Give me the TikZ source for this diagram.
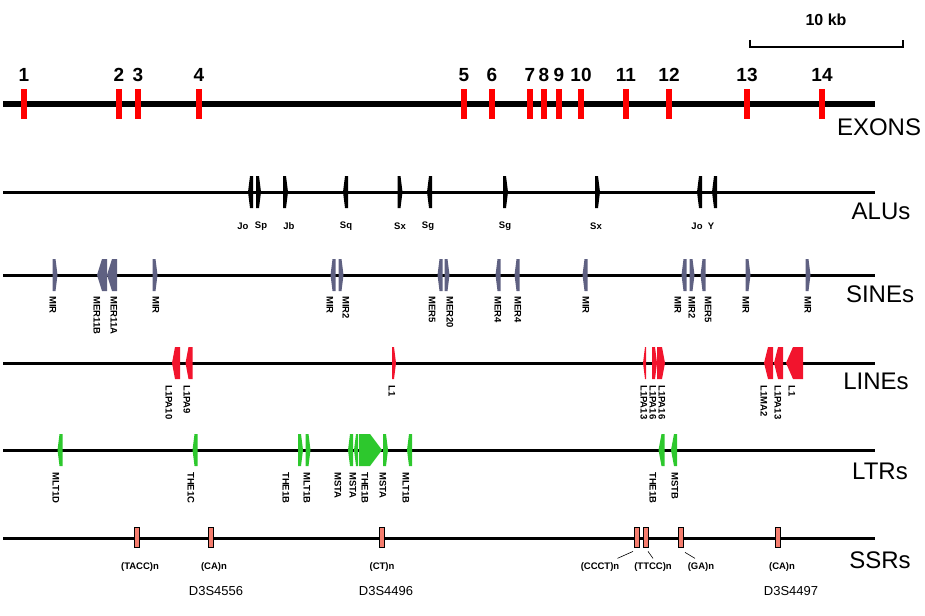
\documentclass[tikz,border=0pt]{standalone}
\usepackage{fontspec}
\setmainfont{Liberation Sans}
\usetikzlibrary{positioning,calc}

\definecolor{sinefill}{RGB}{95,97,130}
\definecolor{linefill}{RGB}{242,20,45}
\definecolor{ltrfill}{RGB}{45,200,45}
\definecolor{ssrfill}{RGB}{245,125,110}

\begin{document}
\begin{tikzpicture}[x=1pt,y=-1pt]
	\tikzstyle{track}=[line width=3pt];
	\tikzstyle{exon}=[rectangle, fill=red, minimum width=6, minimum height=30, inner sep=0];
	\tikzstyle{num}=[font=\bfseries\fontsize{19}{19}\selectfont, inner sep=0];
	\tikzstyle{rowname}=[font=\fontsize{24}{24}\selectfont, inner sep=0];
	\tikzstyle{tag}=[font=\bfseries\fontsize{9.5}{9.5}\selectfont, inner sep=0];
	\tikzstyle{vtag}=[tag, rotate=-90, anchor=west];
	\tikzstyle{marker}=[font=\fontsize{13}{13}\selectfont, inner sep=0];
	\tikzstyle{alu}=[fill=black];
	\tikzstyle{sine}=[fill=sinefill];
	\tikzstyle{lin}=[fill=linefill];
	\tikzstyle{ltr}=[fill=ltrfill];
	\tikzstyle{minus}=[xscale=-1];
	\tikzstyle{ssr}=[draw, line width=0.8pt, fill=ssrfill, minimum width=5, minimum height=20, inner sep=0];
	\tikzstyle{leader}=[line width=0.6pt];
	\tikzset{pics/rep/.style 2 args={code={\fill (-#1/2,-16) -- (#1/2-#2,-16) -- (#1/2,0) -- (#1/2-#2,16) -- (-#1/2,16) -- cycle;}}};
	
	\useasboundingbox (0,0) rectangle (925,615);
	
	% scale bar
	\draw[line width=2pt] (750,40) -- (750,47) -- (903,47) -- (903,40);
	\node[font=\bfseries\fontsize{16}{16}\selectfont, inner sep=0] (kb) at (826,20) {10 kb};
	
	% exons
	\draw[line width=6pt] (3,104) -- (875,104);
	\node[exon] (e1) at (24,104) {};
	\node[exon] (e2) at (119,104) {};
	\node[exon] (e3) at (138,104) {};
	\node[exon] (e4) at (199,104) {};
	\node[exon] (e5) at (464,104) {};
	\node[exon] (e6) at (492,104) {};
	\node[exon] (e7) at (530,104) {};
	\node[exon] (e8) at (544,104) {};
	\node[exon] (e9) at (559,104) {};
	\node[exon] (e10) at (581,104) {};
	\node[exon] (e11) at (626,104) {};
	\node[exon] (e12) at (669,104) {};
	\node[exon] (e13) at (747,104) {};
	\node[exon] (e14) at (822,104) {};
	\node[num] (n1) at ($(e1)+(0,-29)$) {1};
	\node[num] (n2) at ($(e2)+(0,-29)$) {2};
	\node[num] (n3) at ($(e3)+(0,-29)$) {3};
	\node[num] (n4) at ($(e4)+(0,-29)$) {4};
	\node[num] (n5) at ($(e5)+(0,-29)$) {5};
	\node[num] (n6) at ($(e6)+(0,-29)$) {6};
	\node[num] (n7) at ($(e7)+(0,-29)$) {7};
	\node[num] (n8) at ($(e8)+(0,-29)$) {8};
	\node[num] (n9) at ($(e9)+(0,-29)$) {9};
	\node[num] (n10) at ($(e10)+(0,-29)$) {10};
	\node[num] (n11) at ($(e11)+(0,-29)$) {11};
	\node[num] (n12) at ($(e12)+(0,-29)$) {12};
	\node[num] (n13) at ($(e13)+(0,-29)$) {13};
	\node[num] (n14) at ($(e14)+(0,-29)$) {14};
	\node[rowname] (rexons) at (879,127) {EXONS};
	
	% ALUs
	\draw[track] (3,192) -- (875,192);
	\pic[alu, minus] at (250.5,192) {rep={5}{2}};
	\pic[alu] at (258.5,192) {rep={5}{2}};
	\pic[alu] at (285.5,192) {rep={5}{2}};
	\pic[alu, minus] at (345.5,192) {rep={5}{2}};
	\pic[alu] at (400,192) {rep={5}{2}};
	\pic[alu, minus] at (429.5,192) {rep={5}{2}};
	\pic[alu] at (505.5,192) {rep={5}{2}};
	\pic[alu] at (597.5,192) {rep={5}{2}};
	\pic[alu, minus] at (699.5,192) {rep={5}{2}};
	\pic[alu, minus] at (714.5,192) {rep={5}{2}};
	\node[tag] (a1) at (243,226) {Jo};
	\node[tag] (a2) at (261,226) {Sp};
	\node[tag] (a3) at (289,226) {Jb};
	\node[tag] (a4) at (346,226) {Sq};
	\node[tag] (a5) at (400,226) {Sx};
	\node[tag] (a6) at (428,226) {Sg};
	\node[tag] (a7) at (505,226) {Sg};
	\node[tag] (a8) at (596,226) {Sx};
	\node[tag] (a9) at (697,226) {Jo};
	\node[tag] (a10) at (711,226) {Y};
	\node[rowname] (ralus) at (881,211) {ALUs};
	
	% SINEs
	\draw[track] (3,275) -- (875,275);
	\pic[sine] at (55,275) {rep={5}{2}};
	\pic[sine, minus] at (102,275) {rep={10}{5}};
	\pic[sine, minus] at (112,275) {rep={10}{5}};
	\pic[sine] at (155,275) {rep={5}{2}};
	\pic[sine, minus] at (333,275) {rep={5}{2}};
	\pic[sine] at (341,275) {rep={5}{2}};
	\pic[sine, minus] at (440,275) {rep={5}{2}};
	\pic[sine] at (447,275) {rep={5}{2}};
	\pic[sine, minus] at (498,275) {rep={5}{2}};
	\pic[sine, minus] at (517,275) {rep={5}{2}};
	\pic[sine, minus] at (585,275) {rep={5}{2}};
	\pic[sine, minus] at (684,275) {rep={5}{2}};
	\pic[sine] at (692,275) {rep={5}{2}};
	\pic[sine, minus] at (703,275) {rep={5}{2}};
	\pic[sine] at (748,275) {rep={5}{2}};
	\pic[sine] at (808,275) {rep={5}{2}};
	\node[vtag] (s1) at (53,296) {MIR};
	\node[vtag] (s2) at (97,296) {MER11B};
	\node[vtag] (s3) at (114,296) {MER11A};
	\node[vtag] (s4) at (156,296) {MIR};
	\node[vtag] (s5) at (330,296) {MIR};
	\node[vtag] (s6) at (346,296) {MIR2};
	\node[vtag] (s7) at (432,296) {MER5};
	\node[vtag] (s8) at (450,296) {MER20};
	\node[vtag] (s9) at (498,296) {MER4};
	\node[vtag] (s10) at (518,296) {MER4};
	\node[vtag] (s11) at (586,296) {MIR};
	\node[vtag] (s12) at (678,296) {MIR};
	\node[vtag] (s13) at (692,296) {MIR2};
	\node[vtag] (s14) at (708,296) {MER5};
	\node[vtag] (s15) at (746,296) {MIR};
	\node[vtag] (s16) at (808,296) {MIR};
	\node[rowname] (rsines) at (880,294) {SINEs};
	
	% LINEs
	\draw[track] (3,363) -- (875,363);
	\pic[lin, minus] at (176,363) {rep={8}{3}};
	\pic[lin, minus] at (189,363) {rep={7}{3}};
	\pic[lin] at (394,363) {rep={4}{2}};
	\pic[lin, minus] at (644.5,363) {rep={3}{2}};
	\pic[lin] at (654.5,363) {rep={5}{2}};
	\pic[lin] at (661,363) {rep={8}{3}};
	\pic[lin, minus] at (768.5,363) {rep={9}{4}};
	\pic[lin, minus] at (778.5,363) {rep={9}{4}};
	\pic[lin, minus] at (794.5,363) {rep={17}{7}};
	\node[vtag] (l1) at (169,385) {L1PA10};
	\node[vtag] (l2) at (187,385) {L1PA9};
	\node[vtag] (l3) at (392,385) {L1};
	\node[vtag] (l4) at (644,385) {L1PA13};
	\node[vtag] (l5) at (653,385) {L1PA16};
	\node[vtag] (l6) at (662,385) {L1PA16};
	\node[vtag] (l7) at (764,385) {L1MA2};
	\node[vtag] (l8) at (778,385) {L1PA13};
	\node[vtag] (l9) at (792,385) {L1};
	\node[rowname] (rlines) at (876,381) {LINEs};
	
	% LTRs
	\draw[track] (3,450) -- (875,450);
	\pic[ltr, minus] at (60,450) {rep={5}{2}};
	\pic[ltr, minus] at (195,450) {rep={5}{2}};
	\pic[ltr] at (300.5,450) {rep={5}{2}};
	\pic[ltr] at (308,450) {rep={5}{2}};
	\pic[ltr, minus] at (350.5,450) {rep={5}{2}};
	\pic[ltr, minus] at (356,450) {rep={4}{2}};
	\pic[ltr] at (370.5,450) {rep={23}{12}};
	\pic[ltr] at (385.5,450) {rep={5}{2}};
	\pic[ltr, minus] at (409.5,450) {rep={5}{2}};
	\pic[ltr, minus] at (661.5,450) {rep={6}{3}};
	\pic[ltr, minus] at (674,450) {rep={6}{3}};
	\node[vtag] (t1) at (56,472) {MLT1D};
	\node[vtag] (t2) at (191,472) {THE1C};
	\node[vtag] (t3) at (286,472) {THE1B};
	\node[vtag] (t4) at (307,472) {MLT1B};
	\node[vtag] (t5) at (338,472) {MSTA};
	\node[vtag] (t6) at (353,472) {MSTA};
	\node[vtag] (t7) at (365,472) {THE1B};
	\node[vtag] (t8) at (383,472) {MSTA};
	\node[vtag] (t9) at (406,472) {MLT1B};
	\node[vtag] (t10) at (653,472) {THE1B};
	\node[vtag] (t11) at (675,472) {MSTB};
	\node[rowname] (rltrs) at (880,471) {LTRs};
	
	% SSRs
	\draw[track] (3,538) -- (875,538);
	\node[ssr] (r1) at (137,537) {};
	\node[ssr] (r2) at (211,537) {};
	\node[ssr] (r3) at (382,537) {};
	\node[ssr] (r4) at (637,537) {};
	\node[ssr] (r5) at (646,537) {};
	\node[ssr] (r6) at (681,537) {};
	\node[ssr] (r7) at (778,537) {};
	\node[tag] (tacc) at (140,567) {(TACC)n};
	\node[tag] (ca1) at (214,567) {(CA)n};
	\node[tag] (ct) at (382,567) {(CT)n};
	\node[tag] (ccct) at (600,567) {(CCCT)n};
	\node[tag] (ttcc) at (653,567) {(TTCC)n};
	\node[tag] (ga) at (701,567) {(GA)n};
	\node[tag] (ca2) at (782,567) {(CA)n};
	\node[marker] (m1) at (216,591) {D3S4556};
	\node[marker] (m2) at (386,591) {D3S4496};
	\node[marker] (m3) at (791,591) {D3S4497};
	\draw[leader] ($(ccct.north east)+(-2,-4)$) -- ($(r4.south)+(-4,4)$);
	\draw[leader] ($(r5.south)+(2,4)$) -- ($(ttcc.north)+(0,-4)$);
	\draw[leader] ($(r6.south)+(4,5)$) -- ($(ga.north)+(-6,-4)$);
	\node[rowname] (rssrs) at (880,560) {SSRs};
	
\end{tikzpicture}
\end{document}
